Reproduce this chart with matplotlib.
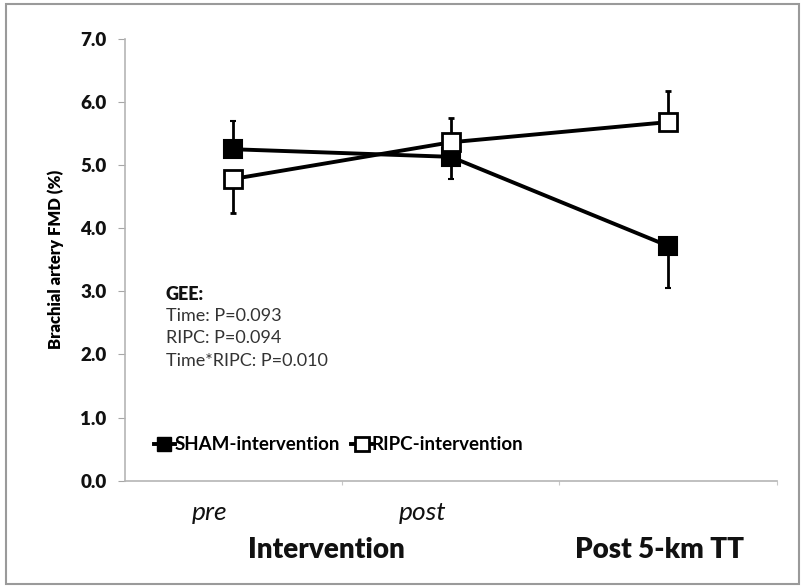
import numpy as np
import matplotlib
matplotlib.use("Agg")
from matplotlib import pyplot as plt
from matplotlib.patches import Rectangle
from matplotlib.lines import Line2D
from matplotlib import transforms

plt.rcParams['font.family'] = ['Lato', 'DejaVu Sans']

# data
timepoints = [0, 1, 2]
sham = [5.25, 5.13, 3.72]
ripc = [4.78, 5.36, 5.68]
# one-sided error bars (lower, upper)
sham_lo = [0.0, 0.35, 0.67]
sham_hi = [0.44, 0.0, 0.0]
ripc_lo = [0.54, 0.0, 0.0]
ripc_hi = [0.0, 0.38, 0.50]

sub_labels = ['pre', 'post']
sub_pos = [-0.11, 0.87]
group_labels = ['Intervention', 'Post 5-km TT']
group_pos = [0.43, 1.96]
yticks = np.arange(0, 7.01, 1.0)
gee_lines = ['Time: P=0.093', 'RIPC: P=0.094', 'Time*RIPC: P=0.010']

fig = plt.figure(figsize=(8.04, 5.87), dpi=100)
# outer frame
fig.patches.append(Rectangle((0.007, 0.005), 0.987, 0.988, transform=fig.transFigure,
                             fill=False, edgecolor='#9a9a9a', lw=1.5))

ax = fig.add_axes([0.155, 0.181, 0.811, 0.753])

ax.errorbar(timepoints, sham, yerr=[sham_lo, sham_hi], color='black', lw=2.8,
            marker='s', ms=12.5, mfc='black', mec='black', mew=1.5,
            elinewidth=2, capsize=2, capthick=2, zorder=3)
ax.errorbar(timepoints, ripc, yerr=[ripc_lo, ripc_hi], color='black', lw=2.8,
            marker='s', ms=12.5, mfc='white', mec='black', mew=2,
            elinewidth=2, capsize=2, capthick=2, zorder=4)

ax.set_xlim(-0.5, 2.5)
ax.set_ylim(0, 7)
ax.set_yticks(yticks)
ax.set_yticklabels(['%.1f' % v for v in yticks], fontsize=13.5, fontweight='heavy', color='#111111')
ax.set_xticks([0.5, 1.5, 2.5])
ax.set_xticklabels([])
ax.tick_params(axis='y', length=5, color='#a6a6a6', pad=8)
ax.tick_params(axis='x', length=3, color='#c8c8c8', direction='out')

for s in ['top', 'right']:
    ax.spines[s].set_visible(False)
for s in ['left', 'bottom']:
    ax.spines[s].set_color('#b5b5b5')
    ax.spines[s].set_linewidth(1.2)

ax.set_ylabel('Brachial artery FMD (%)', fontsize=12, fontweight='heavy', labelpad=12)

trans = transforms.blended_transform_factory(ax.transData, ax.transAxes)
for lab, xp in zip(sub_labels, sub_pos):
    ax.text(xp, -0.072, lab, transform=trans, ha='center', va='center',
            fontsize=19, fontstyle='italic', color='#111111')
for lab, xp in zip(group_labels, group_pos):
    ax.text(xp, -0.156, lab, transform=trans, ha='center', va='center',
            fontsize=20, fontweight='heavy', color='#111111')

# GEE statistics text
ax.text(0.063, 0.422, 'GEE:', transform=ax.transAxes, fontsize=13,
        fontweight='heavy', color='#111111', va='center')
for i, line in enumerate(gee_lines):
    ax.text(0.063, 0.372 - i * 0.05, line, transform=ax.transAxes, fontsize=13,
            color='#333333', va='center')

handles = [
    Line2D([], [], color='black', lw=2.8, marker='s', ms=10, mfc='black', mec='black'),
    Line2D([], [], color='black', lw=2.8, marker='s', ms=10, mfc='white', mec='black', mew=2),
]
ax.legend(handles, ['SHAM-intervention', 'RIPC-intervention'], loc='center left',
          bbox_to_anchor=(0.045, 0.081), ncol=2, frameon=False,
          handlelength=1.1, handletextpad=0.0, columnspacing=0.6,
          prop={'size': 13.5, 'weight': 'bold'}, borderaxespad=0, borderpad=0)

fig.savefig('out.png', dpi=100)
